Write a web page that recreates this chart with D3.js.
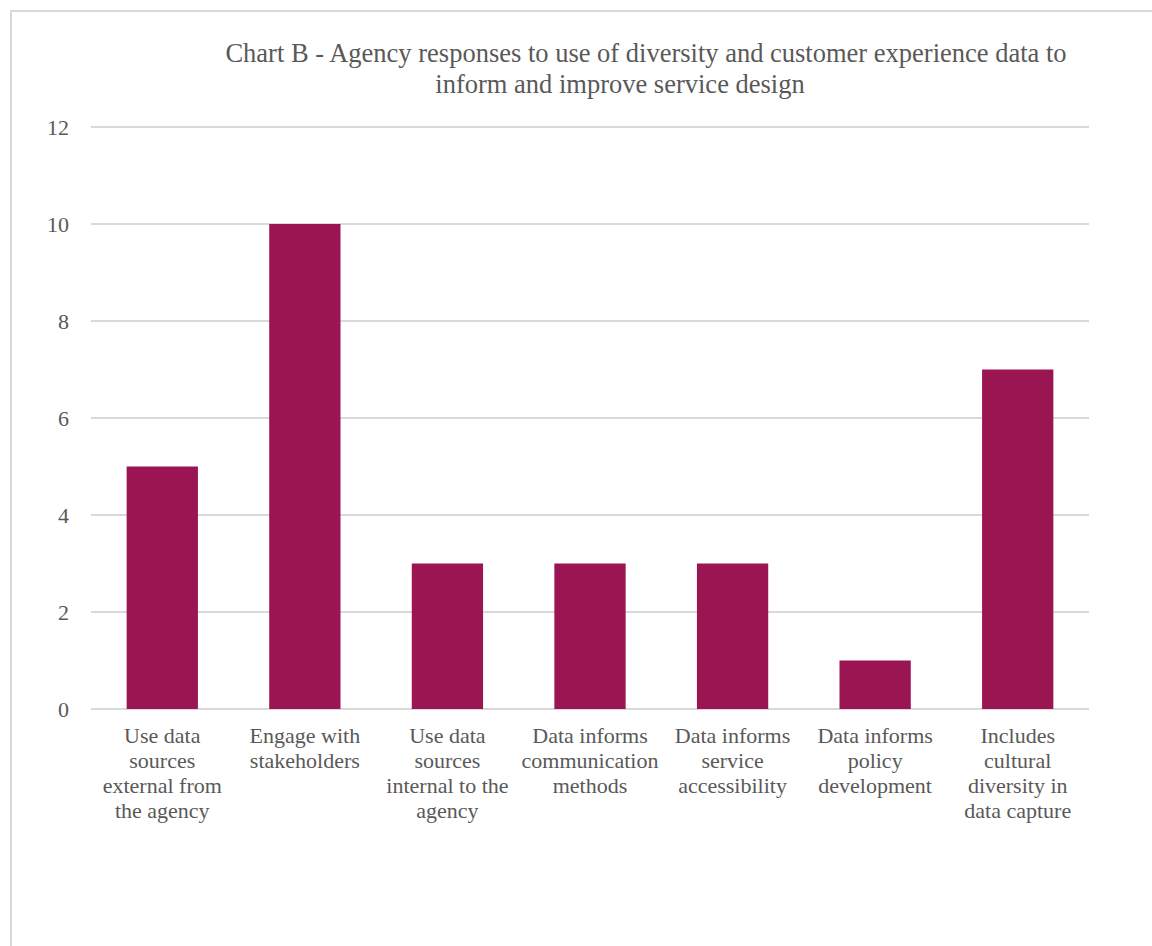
<!DOCTYPE html>
<html>
<head>
<meta charset="utf-8">
<script src="https://cdn.jsdelivr.net/npm/d3@7"></script>
<style>
  body { margin: 0; background: #fff; }
  text { font-family: "Liberation Serif", "DejaVu Serif", serif; fill: #595959; }
</style>
</head>
<body>
<div id="chart"></div>
<script>
// Dữ liệu
const categories = [
    ["Use data", "sources", "external from", "the agency"],
    ["Engage with", "stakeholders"],
    ["Use data", "sources", "internal to the", "agency"],
    ["Data informs", "communication", "methods"],
    ["Data informs", "service", "accessibility"],
    ["Data informs", "policy", "development"],
    ["Includes", "cultural", "diversity in", "data capture"]
];
const values = [5, 10, 3, 3, 3, 1, 7];
const yTicks = [0, 2, 4, 6, 8, 10, 12];
const titleLines = [
    "Chart B - Agency responses to use of diversity and customer experience data to",
    "inform and improve service design"
];

const W = 1152, H = 946;
const margin = { top: 127, right: 63, bottom: 237, left: 91 };
const width = W - margin.left - margin.right,
    height = H - margin.top - margin.bottom;

const svg = d3.select("#chart").append("svg")
    .attr("width", W)
    .attr("height", H);

// Khung viền
svg.append("path")
    .attr("d", `M11,${H} V11 H${W}`)
    .attr("fill", "none")
    .attr("stroke", "#d9d9d9")
    .attr("stroke-width", 2);

// Tiêu đề
svg.selectAll(".title")
    .data(titleLines)
    .enter()
    .append("text")
    .attr("class", "title")
    .attr("x", (d, i) => i === 0 ? 646 : 620)
    .attr("y", (d, i) => 62 + i * 31)
    .attr("text-anchor", "middle")
    .style("font-size", "26.5px")
    .text(d => d);

const chart = svg.append("g")
    .attr("transform", `translate(${margin.left},${margin.top})`);

const x = d3.scaleBand()
    .domain(d3.range(categories.length))
    .range([0, width])
    .paddingInner(0.5)
    .paddingOuter(0.25);

const y = d3.scaleLinear()
    .domain([0, 12])
    .range([height, 0]);

// Lưới
chart.selectAll(".grid")
    .data(yTicks)
    .enter()
    .append("line")
    .attr("x1", 0)
    .attr("x2", width)
    .attr("y1", d => y(d))
    .attr("y2", d => y(d))
    .attr("stroke", "#d9d9d9")
    .attr("stroke-width", 2);

// Cột
chart.selectAll(".bar")
    .data(values)
    .enter()
    .append("rect")
    .attr("x", (d, i) => x(i))
    .attr("y", d => y(d))
    .attr("width", x.bandwidth())
    .attr("height", d => y(0) - y(d))
    .attr("fill", "#9b1553");

// Trục Y
const yAxis = chart.append("g")
    .attr("transform", "translate(-22,0)")
    .call(d3.axisLeft(y).tickValues(yTicks).tickSize(0).tickPadding(0));
yAxis.select(".domain").remove();
yAxis.selectAll("text")
    .attr("dy", "0.35em")
    .style("font-size", "22px")
    .style("font-family", "\"Liberation Serif\", serif")
    .attr("fill", "#595959");

// Nhãn trục X
const labels = chart.selectAll(".xlabel")
    .data(categories)
    .enter()
    .append("text")
    .attr("class", "xlabel")
    .attr("x", (d, i) => x(i) + x.bandwidth() / 2)
    .attr("y", height + 34)
    .attr("text-anchor", "middle")
    .style("font-size", "22px");

labels.selectAll("tspan")
    .data(d => d)
    .enter()
    .append("tspan")
    .attr("x", function () { return d3.select(this.parentNode).attr("x"); })
    .attr("dy", (d, i) => i === 0 ? 0 : 25)
    .text(d => d);
</script>
</body>
</html>
